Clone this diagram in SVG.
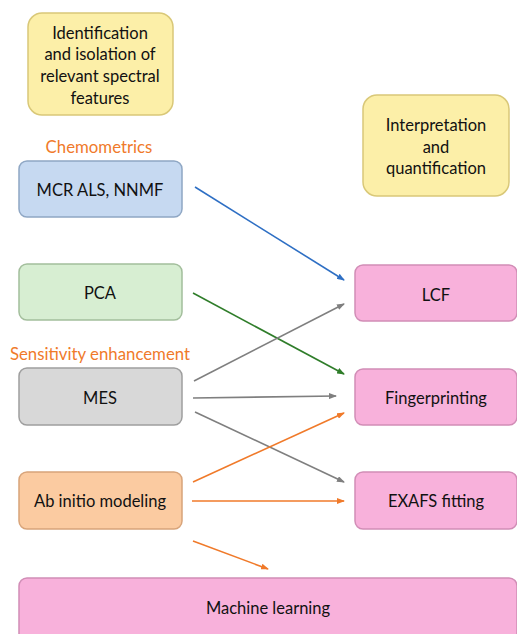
<svg xmlns="http://www.w3.org/2000/svg" width="517" height="634" viewBox="0 0 517 634">
<style>
text{font-family:Lato,"Open Sans","Liberation Sans",sans-serif;font-size:16.5px;fill:#111;text-anchor:middle}
.lbl{fill:#F07A2A;font-size:16.8px}
.box{stroke-width:1.5}
.y{fill:#FCEFA8;stroke:#D9C878}
.b{fill:#C6D9F1;stroke:#8FA7C4}
.g{fill:#D7EED2;stroke:#A3BE9C}
.gr{fill:#D8D8D8;stroke:#9E9E9E}
.o{fill:#FBCBA1;stroke:#D8A47A}
.p{fill:#F8B1DB;stroke:#D18DB6}
.c{fill:none;stroke-width:1.6}
</style>
<defs>
<marker id="ab" markerWidth="8" markerHeight="6" refX="7" refY="3" orient="auto" markerUnits="userSpaceOnUse"><path d="M0,0 L8,3 L0,6 z" fill="#2E6FC4"/></marker>
<marker id="ag" markerWidth="8" markerHeight="6" refX="7" refY="3" orient="auto" markerUnits="userSpaceOnUse"><path d="M0,0 L8,3 L0,6 z" fill="#2F7D2A"/></marker>
<marker id="agr" markerWidth="8" markerHeight="6" refX="7" refY="3" orient="auto" markerUnits="userSpaceOnUse"><path d="M0,0 L8,3 L0,6 z" fill="#7F7F7F"/></marker>
<marker id="ao" markerWidth="8" markerHeight="6" refX="7" refY="3" orient="auto" markerUnits="userSpaceOnUse"><path d="M0,0 L8,3 L0,6 z" fill="#F07A2A"/></marker>
</defs>
<rect width="517" height="634" fill="#fff"/>
<g id="identification">
<rect class="box y" x="28" y="13" width="145" height="102" rx="14"/>
<text x="100" y="39">Identification</text>
<text x="100" y="60">and isolation of</text>
<text x="100" y="82">relevant spectral</text>
<text x="100" y="104">features</text>
</g>
<text class="lbl" x="99" y="153">Chemometrics</text>
<g id="mcr">
<rect class="box b" x="19" y="161" width="163" height="56" rx="8"/>
<text x="100" y="196">MCR ALS, NNMF</text>
</g>
<g id="pca">
<rect class="box g" x="19" y="264" width="163" height="56" rx="8"/>
<text x="100" y="299">PCA</text>
</g>
<text class="lbl" x="100" y="360">Sensitivity enhancement</text>
<g id="mes">
<rect class="box gr" x="19" y="368" width="163" height="57" rx="8"/>
<text x="100" y="404">MES</text>
</g>
<g id="abinitio">
<rect class="box o" x="19" y="472" width="163" height="57" rx="8"/>
<text x="100" y="507">Ab initio modeling</text>
</g>
<g id="interpretation">
<rect class="box y" x="363" y="95" width="146" height="101" rx="14"/>
<text x="436" y="131">Interpretation</text>
<text x="436" y="153">and</text>
<text x="436" y="174">quantification</text>
</g>
<g id="lcf">
<rect class="box p" x="355" y="265" width="162" height="56" rx="8"/>
<text x="436" y="301">LCF</text>
</g>
<g id="fingerprinting">
<rect class="box p" x="355" y="369" width="162" height="56" rx="8"/>
<text x="436" y="404">Fingerprinting</text>
</g>
<g id="exafs">
<rect class="box p" x="355" y="472" width="162" height="57" rx="8"/>
<text x="436" y="507">EXAFS fitting</text>
</g>
<g id="ml">
<rect class="box p" x="19" y="578" width="498" height="64" rx="8"/>
<text x="268" y="614">Machine learning</text>
</g>
<g id="connectors">
<line class="c" x1="195" y1="187" x2="344" y2="280" stroke="#2E6FC4" marker-end="url(#ab)"/>
<line class="c" x1="193" y1="293" x2="344" y2="374" stroke="#2F7D2A" marker-end="url(#ag)"/>
<line class="c" x1="194" y1="381" x2="344" y2="304" stroke="#7F7F7F" marker-end="url(#agr)"/>
<line class="c" x1="193" y1="398" x2="336" y2="396" stroke="#7F7F7F" marker-end="url(#agr)"/>
<line class="c" x1="195" y1="412" x2="344" y2="482" stroke="#7F7F7F" marker-end="url(#agr)"/>
<line class="c" x1="193" y1="482" x2="344" y2="413" stroke="#F07A2A" marker-end="url(#ao)"/>
<line class="c" x1="192" y1="501" x2="344" y2="501" stroke="#F07A2A" marker-end="url(#ao)"/>
<line class="c" x1="193" y1="541" x2="268" y2="569" stroke="#F07A2A" marker-end="url(#ao)"/>
</g>
</svg>
